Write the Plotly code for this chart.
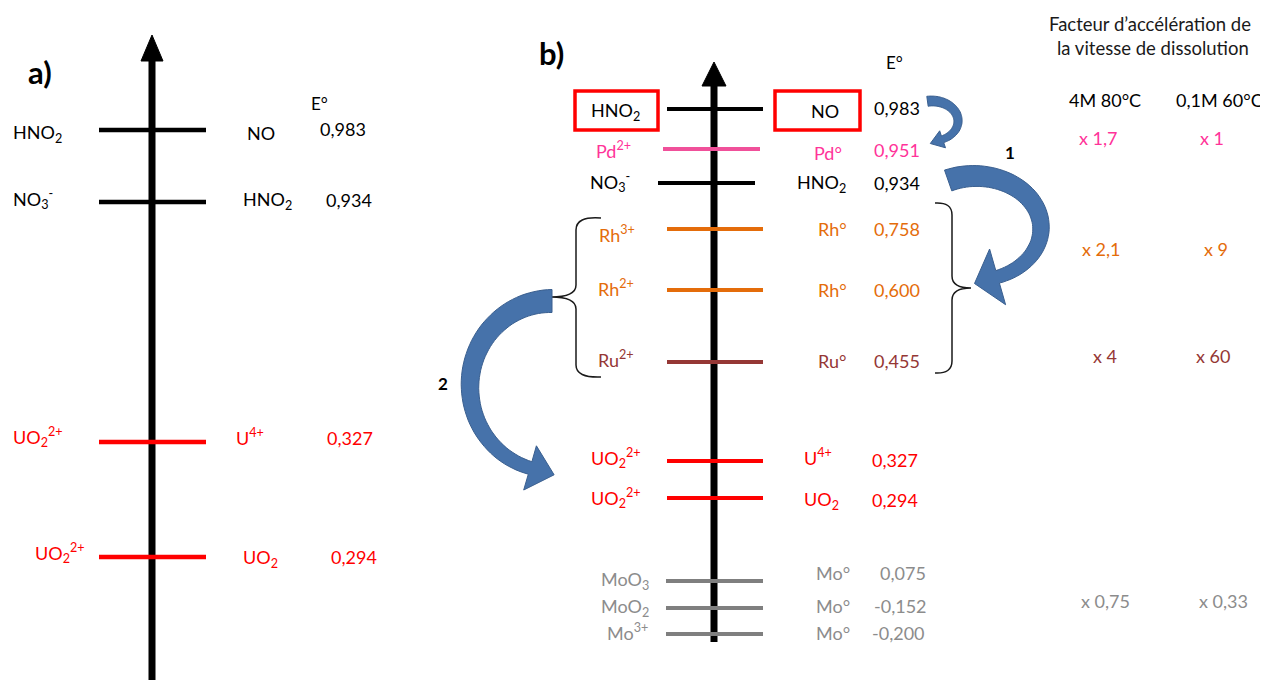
import numpy as np
import plotly.graph_objects as go

# ---------------- DATA ----------------
# Panel a) couples (oxidised / reduced) and standard potentials (V)
ox_a = ["HNO<sub>2</sub>", "NO<sub>3</sub><sup>-</sup>", "UO<sub>2</sub><sup>2+</sup>", "UO<sub>2</sub><sup>2+</sup>"]
red_a = ["NO", "HNO<sub>2</sub>", "U<sup>4+</sup>", "UO<sub>2</sub>"]
E_a = [0.983, 0.934, 0.327, 0.294]
grp_a = ["N", "N", "U", "U"]

# Panel b) couples and standard potentials (V)
ox_b = ["HNO<sub>2</sub>", "Pd<sup>2+</sup>", "NO<sub>3</sub><sup>-</sup>", "Rh<sup>3+</sup>", "Rh<sup>2+</sup>",
        "Ru<sup>2+</sup>", "UO<sub>2</sub><sup>2+</sup>", "UO<sub>2</sub><sup>2+</sup>",
        "MoO<sub>3</sub>", "MoO<sub>2</sub>", "Mo<sup>3+</sup>"]
red_b = ["NO", "Pd°", "HNO<sub>2</sub>", "Rh°", "Rh°", "Ru°", "U<sup>4+</sup>", "UO<sub>2</sub>",
         "Mo°", "Mo°", "Mo°"]
E_b = [0.983, 0.951, 0.934, 0.758, 0.600, 0.455, 0.327, 0.294, 0.075, -0.152, -0.200]
grp_b = ["N", "Pd", "N", "Rh", "Rh", "Ru", "U", "U", "Mo", "Mo", "Mo"]

# Dissolution acceleration factors
fac_headers = ["4M 80°C", "0,1M 60°C"]
fac_groups = ["Pd", "Rh", "Ru", "Mo"]
fac_4M_80C = ["x 1,7", "x 2,1", "x 4", "x 0,75"]
fac_01M_60C = ["x 1", "x 9", "x 60", "x 0,33"]

# ---------------- STYLE / LAYOUT ----------------
LINE_COL = {"N": "#000000", "Pd": "#F0509A", "Rh": "#E46C0A", "Ru": "#953735", "U": "#FF0000", "Mo": "#7F7F7F"}
TEXT_COL = {"N": "#000000", "Pd": "#FF3399", "Rh": "#E46C0A", "Ru": "#953735", "U": "#FF0000", "Mo": "#8C8C8C"}
FONT = "Lato, 'Open Sans', sans-serif"
ARROW_FILL = "#4672AA"
ARROW_LINE = "#3A5F8F"

# schematic (not-to-scale) vertical placement of each level, in pixel space
lvl_y_a = [130, 202, 442, 557]
lvl_x_a = (99, 206)
lab_a_ox = dict(x=[37, 33, 38, 60], y=[133, 199, 437, 553])
lab_a_red = dict(x=[261, 267, 250, 260], y=[133, 200, 437, 558])
lab_a_E = dict(x=[343, 349, 350, 354], y=[129, 200, 438, 557])

lvl_y_b = [109, 149, 183, 229, 290, 362, 461, 498, 581, 608, 634]
lvl_x0_b = [667, 663, 658, 667, 667, 667, 667, 667, 666, 666, 666]
lvl_x1_b = [763, 760, 755, 763, 763, 763, 763, 763, 763, 763, 763]
lab_b_ox = dict(x=[615, 613, 610, 617, 616, 616, 616, 616, 625, 625, 627],
                y=[111, 150, 182, 234, 288, 359, 458, 498, 580, 607, 632])
lab_b_red = dict(x=[825, 828, 821, 832, 832, 832, 818, 821, 833, 833, 833],
                 y=[111, 153, 183, 229, 290, 361, 457, 500, 573, 606, 633])
lab_b_E = dict(x=[897, 897, 897, 897, 897, 897, 895, 895, 903, 900, 898],
               y=[108, 150, 183, 229, 290, 361, 460, 500, 573, 606, 633])
fac_y = {"Pd": 138, "Rh": 249, "Ru": 356, "Mo": 601}
fac_x = [(1098, 1212), (1101, 1216), (1105, 1213), (1105, 1223)]

W, H = 1268, 680
OFF = 8  # page body margin
fig = go.Figure()
shapes = []
ann = []


def text(x, y, s, color="#000000", size=18, bold=False, xanchor="center"):
    if bold:
        s = "<b>" + s + "</b>"
    ann.append(dict(x=x, y=y, text=s, showarrow=False, xanchor=xanchor, yanchor="middle",
                    font=dict(family=FONT, size=size, color=color)))


def fmtE(v):
    return f"{v:.3f}".replace(".", ",")


def axis_arrow(x, y_top, y_bot, head_h, head_w):
    fig.add_trace(go.Scatter(x=[x, x], y=[y_top + head_h - 2, y_bot], mode="lines",
                             line=dict(color="black", width=7), hoverinfo="skip", showlegend=False))
    shapes.append(dict(type="path", path=f"M {x - head_w / 2},{y_top + head_h} L {x},{y_top} L {x + head_w / 2},{y_top + head_h} Z",
                       fillcolor="black", line=dict(color="black", width=1), layer="above"))


def level(x0, x1, y, col, w=4):
    fig.add_trace(go.Scatter(x=[x0, x1], y=[y, y], mode="lines", line=dict(color=col, width=w),
                             hoverinfo="skip", showlegend=False))


def curved_arrow(cx, cy, rx, ry, t0, t1, w0, w1, head_len, head_half, n=60):
    ts = np.radians(np.linspace(t0, t1, n))
    sgn = 1 if t1 > t0 else -1
    left, right = [], []
    for i, t in enumerate(ts):
        px, py = cx + rx * np.cos(t), cy + ry * np.sin(t)
        tx, ty = -rx * np.sin(t) * sgn, ry * np.cos(t) * sgn
        L = np.hypot(tx, ty)
        tx, ty = tx / L, ty / L
        nx, ny = -ty, tx
        w = w0 + (w1 - w0) * i / (n - 1)
        left.append((px + nx * w / 2, py + ny * w / 2))
        right.append((px - nx * w / 2, py - ny * w / 2))
    tip = (px + tx * head_len, py + ty * head_len)
    wing1 = (px + nx * head_half, py + ny * head_half)
    wing2 = (px - nx * head_half, py - ny * head_half)
    pts = left + [wing1, tip, wing2] + right[::-1]
    path = "M " + " L ".join(f"{a:.1f},{b:.1f}" for a, b in pts) + " Z"
    shapes.append(dict(type="path", path=path, fillcolor=ARROW_FILL,
                       line=dict(color=ARROW_LINE, width=1), layer="above"))


# ---------------- PANEL a ----------------
text(40, 72, "a)", size=31, bold=True)
axis_arrow(152, 35, 690, 26, 22)
for i in range(len(E_a)):
    g = grp_a[i]
    level(lvl_x_a[0], lvl_x_a[1], lvl_y_a[i], LINE_COL[g], 4.5)
    text(lab_a_ox["x"][i], lab_a_ox["y"][i], ox_a[i], TEXT_COL[g])
    text(lab_a_red["x"][i], lab_a_red["y"][i], red_a[i], TEXT_COL[g])
    text(lab_a_E["x"][i], lab_a_E["y"][i], fmtE(E_a[i]), TEXT_COL[g])
text(319, 103, "E°", size=17)

# ---------------- PANEL b ----------------
text(551, 53, "b)", size=31, bold=True)
axis_arrow(714, 62, 642, 24, 24)
for i in range(len(E_b)):
    g = grp_b[i]
    level(lvl_x0_b[i], lvl_x1_b[i], lvl_y_b[i], LINE_COL[g], 4)
    text(lab_b_ox["x"][i], lab_b_ox["y"][i], ox_b[i], TEXT_COL[g])
    text(lab_b_red["x"][i], lab_b_red["y"][i], red_b[i], TEXT_COL[g])
    text(lab_b_E["x"][i], lab_b_E["y"][i], fmtE(E_b[i]), TEXT_COL[g])
text(894, 62, "E°", size=17)

# red boxes around HNO2 / NO
for x0, x1 in [(575, 658), (775, 860)]:
    shapes.append(dict(type="rect", x0=x0, x1=x1, y0=91, y1=130,
                       line=dict(color="#FF0000", width=3.5), fillcolor="rgba(0,0,0,0)"))

# braces
shapes.append(dict(type="path",
                   path="M 601,218 Q 576,216 576,230 L 576,285 Q 576,297 551,297 Q 576,297 576,309 L 576,365 Q 576,378 601,377",
                   line=dict(color="#1a1a1a", width=1.5)))
shapes.append(dict(type="path",
                   path="M 935,203 Q 952,202 952,215 L 952,276 Q 952,288 971,288 Q 952,288 952,300 L 952,361 Q 952,374 935,373",
                   line=dict(color="#1a1a1a", width=1.5)))

# curved arrows
curved_arrow(932, 121, 26, 20, -100, 66, 10, 7, 13, 9)
curved_arrow(975, 228, 66, 52, -114, 70, 22, 13, 24, 29)
curved_arrow(552, 386, 82, 85, -90, -254.5, 23, 13, 25, 23)
text(1010, 152, "1", size=17, bold=True)
text(443, 383, "2", size=17, bold=True)

# ---------------- FACTORS ----------------
text(1150, 24, "Facteur d’accélération de", size=18.5, color="#1a1a1a")
text(1153, 48, "la vitesse de dissolution", size=18.5, color="#1a1a1a")
text(1105, 100, fac_headers[0], size=18)
text(1219, 100, fac_headers[1], size=18)
for j, g in enumerate(fac_groups):
    text(fac_x[j][0], fac_y[g], fac_4M_80C[j], TEXT_COL[g], size=18)
    text(fac_x[j][1], fac_y[g], fac_01M_60C[j], TEXT_COL[g], size=18)

fig.update_layout(
    width=W - OFF, height=H - OFF, margin=dict(l=0, r=0, t=0, b=0),
    paper_bgcolor="white", plot_bgcolor="white",
    xaxis=dict(range=[OFF, W], visible=False, fixedrange=True),
    yaxis=dict(range=[H, OFF], visible=False, fixedrange=True),
    shapes=shapes, annotations=ann, showlegend=False,
)
fig.write_html("out.html")
